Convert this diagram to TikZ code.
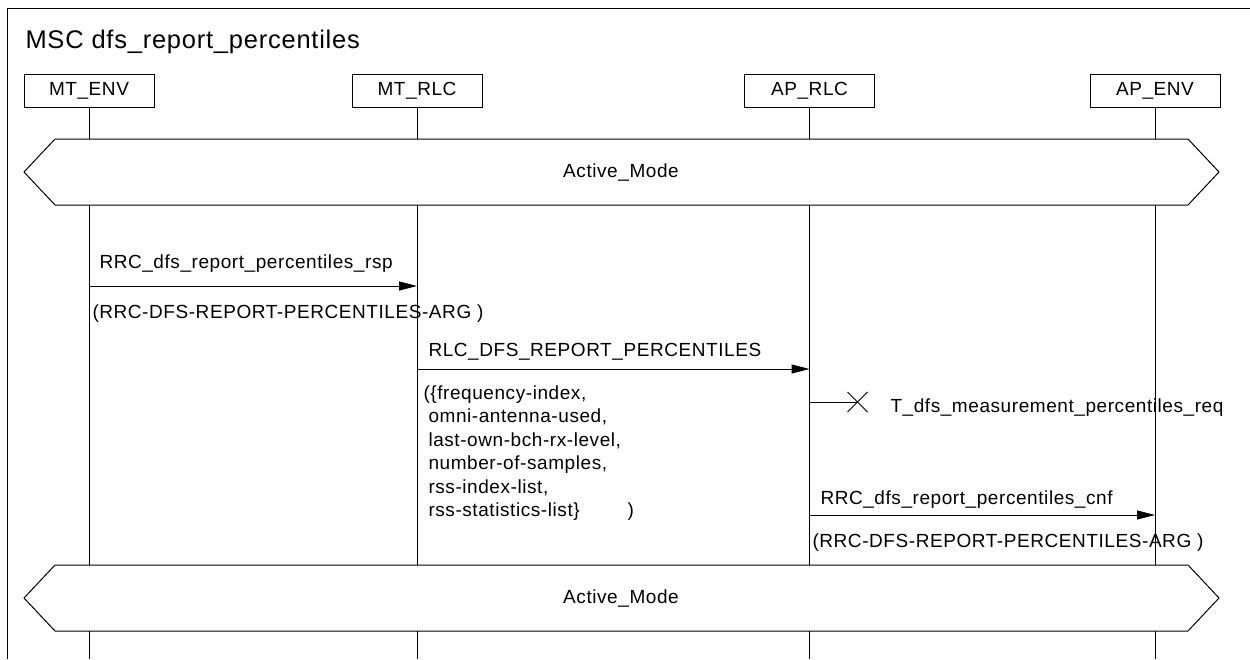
\documentclass[tikz,border=0pt]{standalone}
\usepackage{fontspec}
\setmainfont{Liberation Sans}[LetterSpace=3]
\usetikzlibrary{arrows.meta}
\newcommand\msgfont{\fontsize{19}{23.5}\selectfont}
\newcommand\titlefont{\fontsize{25.5}{30}\selectfont}
\begin{document}
\begin{tikzpicture}[x=1pt,y=-1pt,line width=1pt,
  inst/.style={draw,minimum width=130pt,minimum height=33pt,inner sep=0pt,font=\msgfont},
  msg/.style={-{Triangle[length=18pt,width=9pt]}},
  lbl/.style={anchor=base west,inner sep=0pt,font=\msgfont},
  cond/.style={draw,fill=white,line join=miter},
  condtext/.style={inner sep=0pt,font=\msgfont}]
\useasboundingbox (0,0) rectangle (1250,659);
% frame
\draw (1250,8) -- (7.5,8) -- (7.5,659);
\node[anchor=base west,inner sep=0pt,font=\titlefont] (title) at (25,48) {MSC dfs\_report\_percentiles};
% instances
\node[inst] (mtenv) at (89,90.5) {MT\_ENV};
\node[inst] (mtrlc) at (417,90.5) {MT\_RLC};
\node[inst] (aprlc) at (809.5,90.5) {AP\_RLC};
\node[inst] (apenv) at (1155,90.5) {AP\_ENV};
% y levels
\coordinate (yend) at (0,659);
\coordinate (y1) at (0,286);
\coordinate (y2) at (0,369);
\coordinate (yt) at (0,402);
\coordinate (y3) at (0,515);
% lifelines
\foreach \n in {mtenv,mtrlc,aprlc,apenv}{
  \draw (\n.south) -- (\n.south |- yend);
}
% conditions
\draw[cond] (24,172) -- (55,139) -- (1188,139) -- (1219,172) -- (1188,205) -- (55,205) -- cycle;
\node[condtext] (cond1) at (621,172) {Active\_Mode};
\draw[cond] (24,598) -- (55,565) -- (1188,565) -- (1219,598) -- (1188,631) -- (55,631) -- cycle;
\node[condtext] (cond2) at (621,598) {Active\_Mode};
% message 1
\coordinate (m1a) at (mtenv |- y1);
\coordinate (m1b) at (mtrlc |- y1);
\draw[msg] (m1a) -- (m1b);
\node[lbl] (m1l) at (99,268) {RRC\_dfs\_report\_percentiles\_rsp};
\node[lbl] (m1p) at (92,318) {(RRC-DFS-REPORT-PERCENTILES-ARG )};
% message 2
\coordinate (m2a) at (mtrlc |- y2);
\coordinate (m2b) at (aprlc |- y2);
\draw[msg] (m2a) -- (m2b);
\node[lbl] (m2l) at (428,356) {RLC\_DFS\_REPORT\_PERCENTILES};
\node[lbl] (m2p1) at (423,399) {(\{frequency-index,};
\node[lbl] (m2p2) at (428,422.5) {omni-antenna-used,};
\node[lbl] (m2p3) at (428,446) {last-own-bch-rx-level,};
\node[lbl] (m2p4) at (428,469.5) {number-of-samples,};
\node[lbl] (m2p5) at (428,493) {rss-index-list,};
\node[lbl] (m2p6) at (428,516.5) {rss-statistics-list\}};
\node[lbl] (m2c) at (627,516.5) {)};
% timer
\coordinate (ta) at (aprlc |- yt);
\coordinate (tx) at (857.5,402);
\draw (ta) -- (tx);
\draw (tx) ++(-10,-10) -- ++(20,20);
\draw (tx) ++(-10,10) -- ++(20,-20);
\node[lbl] (tl) at (890,412.5) {T\_dfs\_measurement\_percentiles\_req};
% message 3
\coordinate (m3a) at (aprlc |- y3);
\coordinate (m3b) at (apenv |- y3);
\draw[msg] (m3a) -- (m3b);
\node[lbl] (m3l) at (820,504) {RRC\_dfs\_report\_percentiles\_cnf};
\node[lbl] (m3p) at (812,547) {(RRC-DFS-REPORT-PERCENTILES-ARG )};
\end{tikzpicture}
\end{document}
